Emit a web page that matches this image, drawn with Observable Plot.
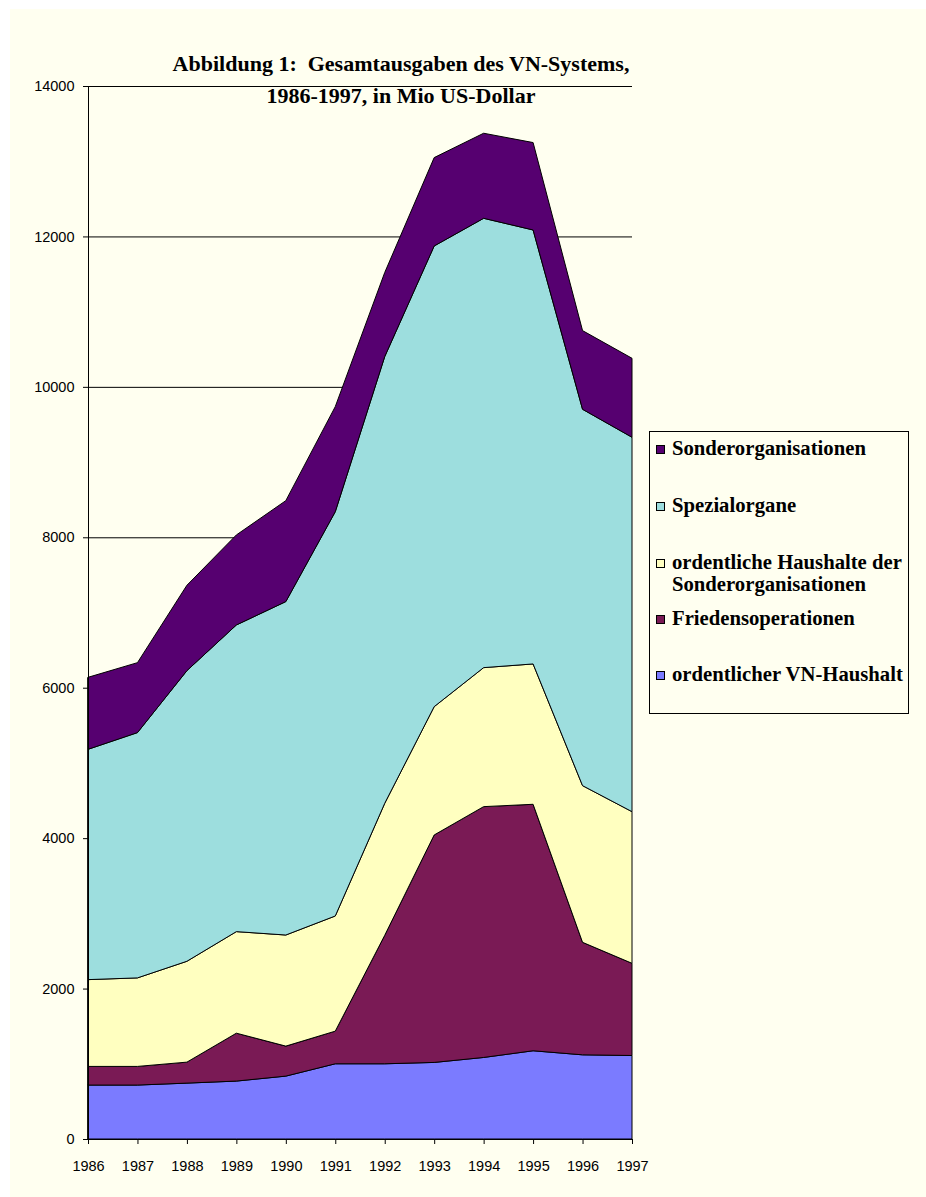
<!DOCTYPE html>
<html>
<head>
<meta charset="utf-8">
<script src="https://cdn.jsdelivr.net/npm/d3@7"></script>
<script src="https://cdn.jsdelivr.net/npm/@observablehq/plot@0.6"></script>
<style>
  html, body { margin: 0; padding: 0; background: #ffffff; }
  #page { position: absolute; left: 10px; top: 9px; width: 916px; height: 1188px; background: #FFFFF0; overflow: hidden; }
  #chart { position: absolute; left: -10px; top: -9px; }
  #title { position: absolute; left: 0; width: 782px; top: 39px; text-align: center;
           font-family: "Liberation Serif", "Times New Roman", serif; font-weight: bold; font-size: 22px; line-height: 32px; color: #000; }
  #legend { position: absolute; left: 639px; top: 422px; width: 260px; height: 283px; border: 1px solid #000; box-sizing: border-box;
            font-family: "Liberation Serif", "Times New Roman", serif; font-weight: bold; font-size: 20.7px; color: #000; }
  .item { position: absolute; left: 6px; line-height: 22px; }
  .sw { position: absolute; left: 0; top: 8px; width: 9px; height: 9px; border: 1px solid #000; box-sizing: border-box; }
  .lbl { position: absolute; left: 16px; top: 0; white-space: nowrap; }
</style>
</head>
<body>
<div id="page">
  <div id="chart"></div>
  <div id="title">Abbildung 1:&nbsp; Gesamtausgaben des VN-Systems,<br>1986-1997, in Mio US-Dollar</div>
  <div id="legend"></div>
</div>
<script>
const years = [1986, 1987, 1988, 1989, 1990, 1991, 1992, 1993, 1994, 1995, 1996, 1997];
const seriesNames = [
  "ordentlicher VN-Haushalt",
  "Friedensoperationen",
  "ordentliche Haushalte der Sonderorganisationen",
  "Spezialorgane",
  "Sonderorganisationen"
];
const vnHaushalt       = [717, 717, 743, 770, 836, 1000, 1000, 1018, 1084, 1173, 1119, 1110];
const friedensop       = [248, 248, 279, 637, 399, 434, 1708, 3024, 3335, 3277, 1496, 1226];
const haushalteSonder  = [1154, 1177, 1341, 1350, 1477, 1531, 1755, 1706, 1848, 1866, 2083, 2016];
const spezialorgane    = [3062, 3261, 3864, 4077, 4433, 5375, 5939, 6125, 5974, 5770, 5004, 4978];
const sonderorg        = [957, 930, 1135, 1197, 1342, 1397, 1118, 1175, 1131, 1162, 1046, 1050];
const seriesColors = ["#7B7BFF", "#7A1A55", "#FFFFC0", "#9DDEDE", "#560070"];
const yTicks = [0, 2000, 4000, 6000, 8000, 10000, 12000, 14000];

const seriesValues = [vnHaushalt, friedensop, haushalteSonder, spezialorgane, sonderorg];
const data = [];
seriesNames.forEach((s, i) => {
  years.forEach((y, j) => data.push({year: y, series: s, value: seriesValues[i][j]}));
});

const chart = Plot.plot({
  width: 926,
  height: 1197,
  marginLeft: 88,
  marginRight: 294,
  marginTop: 86,
  marginBottom: 58,
  style: {background: "transparent", fontFamily: "'Liberation Sans', Arial, sans-serif", fontSize: "14.5px", color: "#000"},
  x: {domain: [1986, 1997], label: null},
  y: {domain: [0, 14000], label: null},
  color: {domain: seriesNames, range: seriesColors},
  marks: [
    Plot.ruleY(yTicks.filter(d => d > 0), {x1: 1986, x2: 1997, stroke: "#000", strokeWidth: 1}),
    Plot.areaY(data, {x: "year", y: "value", z: "series", fill: "series", stroke: "#000", strokeWidth: 1, order: seriesNames}),
    Plot.ruleX([1986], {y1: 0, y2: 14000, stroke: "#000", strokeWidth: 1}),
    Plot.ruleY([0], {x1: 1986, x2: 1997, stroke: "#000", strokeWidth: 1}),
    Plot.axisX({ticks: years, tickFormat: d => String(d), tickSize: 5, tickPadding: 16, fontSize: 14.5}),
    Plot.axisY({ticks: yTicks, tickFormat: d => String(d), tickSize: 5, tickPadding: 9, fontSize: 14.5})
  ]
});
document.getElementById("chart").appendChild(chart);

// Legend (top to bottom: reversed stacking order)
const legendRows = [
  {i: 4, top: 5, lines: ["Sonderorganisationen"]},
  {i: 3, top: 62, lines: ["Spezialorgane"]},
  {i: 2, top: 119, lines: ["ordentliche Haushalte der", "Sonderorganisationen"]},
  {i: 1, top: 175, lines: ["Friedensoperationen"]},
  {i: 0, top: 231, lines: ["ordentlicher VN-Haushalt"]}
];
const legend = document.getElementById("legend");
legendRows.forEach(r => {
  const item = document.createElement("div");
  item.className = "item";
  item.style.top = r.top + "px";
  const sw = document.createElement("div");
  sw.className = "sw";
  sw.style.background = seriesColors[r.i];
  item.appendChild(sw);
  const lbl = document.createElement("div");
  lbl.className = "lbl";
  lbl.innerHTML = r.lines.join("<br>");
  item.appendChild(lbl);
  legend.appendChild(item);
});
</script>
</body>
</html>
